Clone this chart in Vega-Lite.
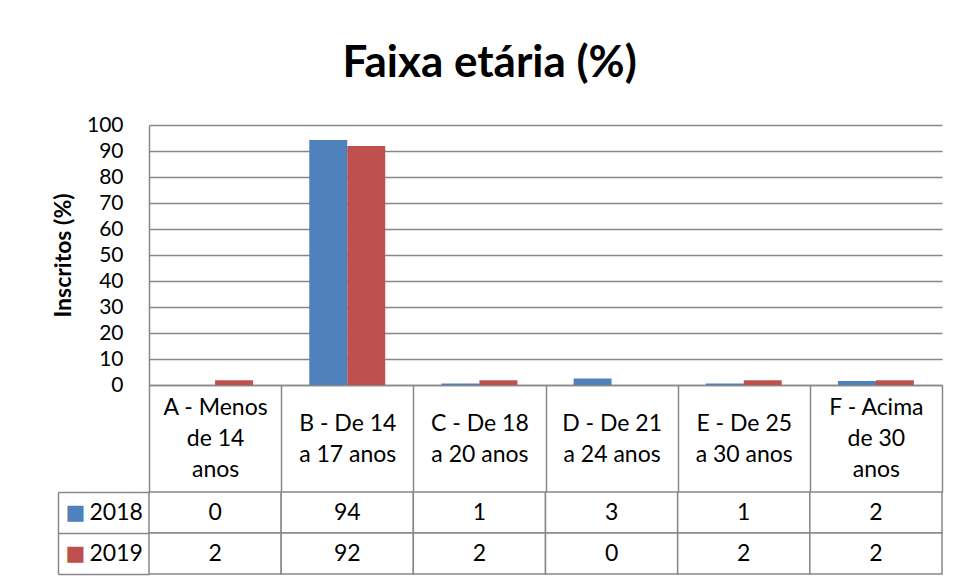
{
  "$schema": "https://vega.github.io/schema/vega-lite/v6.json",
  "background": "white",
  "padding": {"left": 52, "top": 42, "right": 10, "bottom": 4},
  "title": {"text": "Faixa etária (%)", "font": "Lato", "fontSize": 44, "fontWeight": "bold", "color": "black", "anchor": "middle", "offset": 28, "dx": -8},
  "spacing": 107,
  "bounds": "flush",
  "resolve": {"scale": {"x": "independent", "y": "independent"}},
  "config": {"view": {"stroke": null}, "font": "Lato"},
  "datasets": {
    "d": [
      {"cat": "A - Menos\nde 14\nanos", "year": "2018", "value": 0},
      {"cat": "A - Menos\nde 14\nanos", "year": "2019", "value": 1.8},
      {"cat": "B - De 14\na 17 anos", "year": "2018", "value": 94.2},
      {"cat": "B - De 14\na 17 anos", "year": "2019", "value": 91.9},
      {"cat": "C - De 18\na 20 anos", "year": "2018", "value": 0.6},
      {"cat": "C - De 18\na 20 anos", "year": "2019", "value": 1.8},
      {"cat": "D - De 21\na 24 anos", "year": "2018", "value": 2.5},
      {"cat": "D - De 21\na 24 anos", "year": "2019", "value": 0},
      {"cat": "E - De 25\na 30 anos", "year": "2018", "value": 0.6},
      {"cat": "E - De 25\na 30 anos", "year": "2019", "value": 1.8},
      {"cat": "F - Acima\nde 30\nanos", "year": "2018", "value": 1.5},
      {"cat": "F - Acima\nde 30\nanos", "year": "2019", "value": 1.8}
    ]
  },
  "vconcat": [
    {
      "width": 793,
      "height": 260,
      "data": {"name": "d"},
      "mark": {"type": "bar"},
      "encoding": {
        "x": {
          "field": "cat", "type": "nominal", "sort": null,
          "scale": {"paddingInner": 0, "paddingOuter": 0},
          "axis": {
            "title": null, "orient": "bottom", "labelAngle": 0,
            "labelExpr": "split(datum.label, '\\n')",
            "labelFont": "Lato", "labelFontSize": 23, "labelColor": "black",
            "labelLineHeight": 31, "labelBaseline": "middle",
            "labelPadding": {"condition": {"test": "split(datum.label, '\\n').length == 3", "value": -85}, "value": -69},
            "labelLimit": 0, "labelOverlap": false,
            "tickBand": "extent", "tickSize": 107, "tickColor": "#888888", "tickWidth": 1.5,
            "domainColor": "#888888", "domainWidth": 1.5, "grid": false
          }
        },
        "xOffset": {"field": "year", "type": "nominal", "scale": {"paddingInner": 0, "paddingOuter": 0.74}},
        "y": {
          "field": "value", "type": "quantitative",
          "scale": {"domain": [0, 100], "nice": false},
          "axis": {
            "title": "Inscritos (%)", "titleFont": "Lato", "titleFontSize": 23, "titleFontWeight": "bold",
            "titleColor": "black", "titlePadding": 11,
            "values": [0, 10, 20, 30, 40, 50, 60, 70, 80, 90, 100],
            "labelFont": "Lato", "labelFontSize": 21, "labelColor": "black", "labelPadding": 26,
            "ticks": false, "tickSize": 0,
            "domainColor": "#888888", "domainWidth": 1.5,
            "grid": true, "gridColor": "#888888", "gridWidth": 1.5
          }
        },
        "color": {
          "field": "year", "type": "nominal",
          "scale": {"domain": ["2018", "2019"], "range": ["#4F81BD", "#C0504D"]},
          "legend": null
        }
      }
    },
    {
      "width": 793,
      "height": 82,
      "data": {"name": "d"},
      "layer": [
        {
          "mark": {"type": "rect", "fill": "white", "stroke": "#888888", "strokeWidth": 1.5},
          "encoding": {
            "x": {"field": "cat", "type": "nominal", "sort": null, "axis": null, "scale": {"paddingInner": 0, "paddingOuter": 0}},
            "y": {
              "field": "year", "type": "nominal",
              "scale": {"domain": ["2018", "2019"], "paddingInner": 0, "paddingOuter": 0},
              "axis": {
                "orient": "left", "offset": 91, "title": null,
                "domainColor": "#888888", "domainWidth": 1.5,
                "tickBand": "extent", "tickSize": -91, "tickColor": "#888888", "tickWidth": 1.5,
                "labelAlign": "left", "labelBaseline": "middle", "labelPadding": 60,
                "labelFont": "Lato", "labelFontSize": 23, "labelColor": "black"
              }
            }
          }
        },
        {
          "mark": {"type": "text", "font": "Lato", "fontSize": 23, "color": "black"},
          "encoding": {
            "x": {"field": "cat", "type": "nominal", "sort": null, "axis": null},
            "y": {
              "field": "year", "type": "nominal",
              "axis": {
                "orient": "left", "offset": 91, "title": null,
                "domain": false, "ticks": false, "tickSize": 0,
                "labelExpr": "'■'", "labelAlign": "center", "labelBaseline": "middle", "labelPadding": -17,
                "labelFont": "DejaVu Sans", "labelFontSize": 21,
                "labelColor": {"condition": {"test": "datum.value == '2018'", "value": "#4F81BD"}, "value": "#C0504D"}
              }
            },
            "text": {"field": "value", "type": "quantitative", "format": ".0f"}
          }
        }
      ],
      "resolve": {"axis": {"y": "independent"}}
    }
  ]
}
